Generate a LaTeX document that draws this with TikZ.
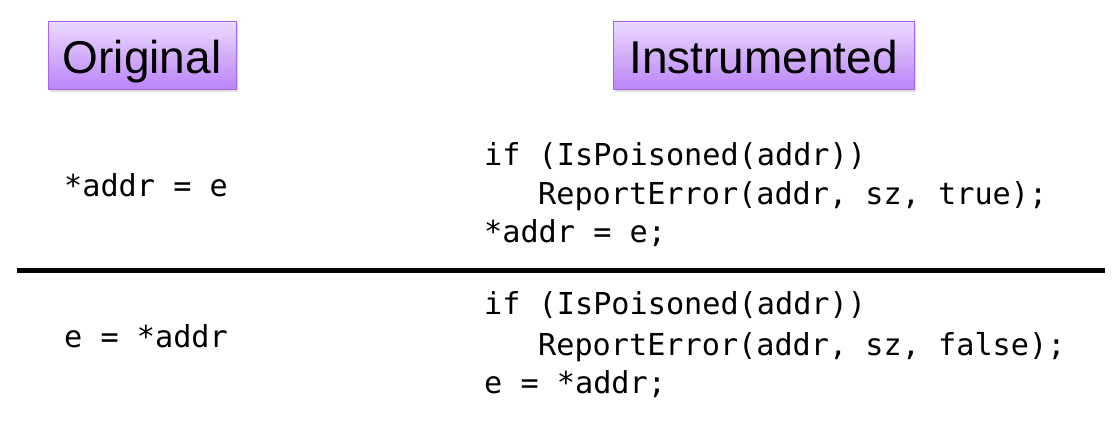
\documentclass[tikz,border=0pt]{standalone}
\usepackage{fontspec}
\setmainfont{Liberation Sans}
\newfontfamily\codefont{DejaVu Sans Mono}
\usetikzlibrary{shadows}

\definecolor{boxtop}{HTML}{EBDAFF}
\definecolor{boxbot}{HTML}{BC84F8}
\definecolor{boxline}{HTML}{A565EC}

\tikzset{
	title/.style={draw=boxline, line width=1pt, top color=boxtop, bottom color=boxbot,
		minimum height=68pt, inner sep=0pt, text height=36pt, text depth=0pt,
		font=\fontsize{46}{50}\selectfont,
		drop shadow={shadow xshift=1.5pt, shadow yshift=-3pt, opacity=.25}},
	code/.style={anchor=base west, inner sep=0pt, font=\codefont\fontsize{30.2}{36}\selectfont}
}

\begin{document}
\begin{tikzpicture}[x=1pt,y=-1pt]
		\useasboundingbox (0,0) rectangle (1117,421);
		
		\node[title, minimum width=188pt] (orig) at (142,55) {Original};
		\node[title, minimum width=301pt] (instr) at (763.5,55) {Instrumented};
		
		\coordinate (sepL) at (17,270.5);
		\coordinate (sepR) at (1105,270.5);
		\draw[line width=5pt] (sepL) -- (sepR);
		
		\node[code] (store) at (64,196) {*addr = e};
		\node[code] (load) at (64,347) {e = *addr};
		
		\node[code] (storeIf) at (484,165) {if (IsPoisoned(addr))};
		\node[code] (storeRep) at (538,204) {ReportError(addr, sz, true);};
		\node[code] (storeDo) at (484,242) {*addr = e;};
		
		\node[code] (loadIf) at (484,314) {if (IsPoisoned(addr))};
		\node[code] (loadRep) at (538,355) {ReportError(addr, sz, false);};
		\node[code] (loadDo) at (484,393) {e = *addr;};
	\end{tikzpicture}
\end{document}
